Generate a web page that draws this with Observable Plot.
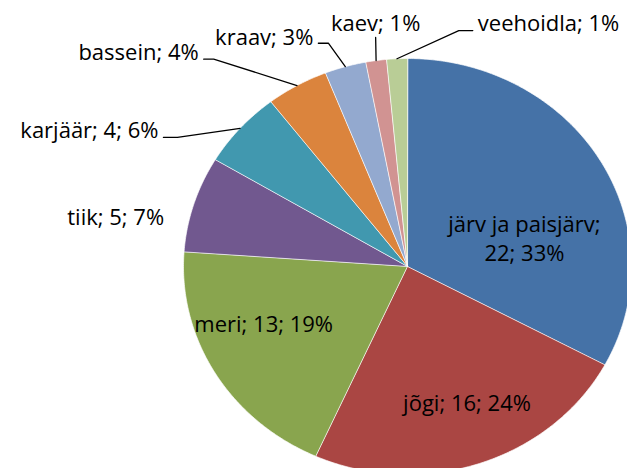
<!DOCTYPE html>
<html>
<head>
<meta charset="utf-8">
<script src="https://cdn.jsdelivr.net/npm/d3@7"></script>
<script src="https://cdn.jsdelivr.net/npm/@observablehq/plot@0.6"></script>
<style>
  html, body { margin: 0; padding: 0; background: #fff; }
  #chart { width: 627px; height: 468px; overflow: hidden; }
  svg { display: block; }
</style>
</head>
<body>
<div id="chart"></div>
<script>
// ---- data ----
const categories = ["järv ja paisjärv", "jõgi", "meri", "tiik", "karjäär", "bassein", "kraav", "kaev", "veehoidla"];
const counts = [22, 16, 13, 5, 4, 3, 2, 1, 1];
const labelTexts = ["järv ja paisjärv;\n22; 33%", "jõgi; 16; 24%", "meri; 13; 19%", "tiik; 5; 7%", "karjäär; 4; 6%", "bassein; 4%", "kraav; 3%", "kaev; 1%", "veehoidla; 1%"];
const colors = ["#4572A7", "#AA4643", "#89A54E", "#71588F", "#4198AF", "#DB843D", "#93A9CF", "#D19392", "#B9CD96"];

// ---- label placement rules (polar, relative to slice mid-angle) ----
const layout = {
  "järv ja paisjärv": {shift: 16, r: 0.54, kind: "inside"},
  "jõgi": {shift: -3.5, r: 0.70, kind: "inside"},
  "meri": {shift: 8, r: 0.697, kind: "inside"},
  "tiik": {shift: -5, r: 1.09, kind: "outside", anchor: "end", stub: 0, leader: false, dy: 0},
  "karjäär": {shift: -10.5, r: 1.20, kind: "outside", anchor: "end", stub: 14, leader: true, dy: -6},
  "bassein": {shift: -11.4, r: 1.32, kind: "outside", anchor: "end", stub: 10, leader: true, dy: -6},
  "kraav": {shift: -2.1, r: 1.13, kind: "outside", anchor: "end", stub: 10, leader: true, dy: -5},
  "kaev": {shift: 0.7, r: 1.11, kind: "outside", anchor: "middle", stub: 0, leader: true, dy: -14},
  "veehoidla": {shift: 14.1, r: 1.157, kind: "outside", anchor: "start", stub: 14, leader: true, dy: -7}
};

const PXX = 224; // pixels per x unit
const total = d3.sum(counts);
const rad = d => d * Math.PI / 180;

// slices as polygons
const slicePts = [];
const labels = [];
const leaders = [];
let cum = 0;
categories.forEach((cat, i) => {
  const v = counts[i];
  const a0 = cum / total * 2 * Math.PI;
  const a1 = (cum + v) / total * 2 * Math.PI;
  const n = Math.max(2, Math.ceil((a1 - a0) / rad(0.5)));
  slicePts.push({cat, x: 0, y: 0});
  for (let k = 0; k <= n; k++) {
    const a = a0 + (a1 - a0) * k / n;
    slicePts.push({cat, x: Math.sin(a), y: Math.cos(a)});
  }
  const mid = (cum + v / 2) / total * 360;
  const L = layout[cat];
  const th = rad(mid + L.shift);
  const ex = L.r * Math.sin(th), ey = L.r * Math.cos(th);
  if (L.kind === "inside") {
    labels.push({cat, text: labelTexts[i], x: ex, y: ey, anchor: "inside", dy: 0});
  } else {
    const dir = L.anchor === "end" ? -1 : (L.anchor === "start" ? 1 : 0);
    const sx = ex + dir * L.stub / PXX;
    if (L.leader) {
      leaders.push({cat, x: Math.sin(rad(mid)), y: Math.cos(rad(mid))});
      leaders.push({cat, x: ex, y: ey});
      if (L.stub) leaders.push({cat, x: sx, y: ey});
    }
    labels.push({cat, text: labelTexts[i], x: sx, y: ey, anchor: L.anchor, dy: L.dy});
  }
  cum += v;
});

const font = "'Open Sans', Lato, sans-serif";
const fs = 22;
const textMarks = [];
textMarks.push(Plot.text(labels.filter(d => d.anchor === "inside"), {
  x: "x", y: "y", text: "text", textAnchor: "middle", lineAnchor: "middle",
  lineHeight: 1.32, fontSize: fs, fill: "#000"
}));
for (const [anc, gap] of [["end", -5], ["start", 5], ["middle", 0]]) {
  const sub = labels.filter(d => d.anchor === anc);
  for (const d of sub) {
    textMarks.push(Plot.text([d], {
      x: "x", y: "y", text: "text", textAnchor: anc, lineAnchor: "middle",
      dx: gap, dy: d.dy, fontSize: fs, fill: "#000"
    }));
  }
}

const chart = Plot.plot({
  width: 627,
  height: 468,
  margin: 0,
  style: {fontFamily: font, background: "#fff", overflow: "hidden"},
  x: {domain: [-1, 1], range: [183, 631], axis: null},
  y: {domain: [-1, 1], range: [474, 58], axis: null},
  color: {domain: categories, range: colors},
  marks: [
    Plot.line(slicePts, {x: "x", y: "y", z: "cat", fill: "cat", stroke: "#ffffff", strokeWidth: 0.8, strokeOpacity: 0.85, curve: "linear-closed"}),
    Plot.line(leaders, {x: "x", y: "y", z: "cat", stroke: "#000", strokeWidth: 1.3, curve: "linear"}),
    ...textMarks
  ]
});
document.getElementById("chart").appendChild(chart);
</script>
</body>
</html>
